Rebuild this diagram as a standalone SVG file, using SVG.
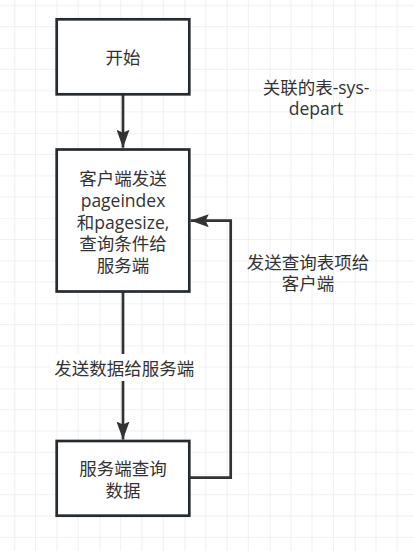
<svg xmlns="http://www.w3.org/2000/svg" width="414" height="551" viewBox="0 0 414 551">
  <defs>
    <pattern id="grid" x="14.3" y="48" width="85.1" height="85.1" patternUnits="userSpaceOnUse">
      <path d="M21.275 0V85.1M42.55 0V85.1M63.825 0V85.1M0 21.275H85.1M0 42.55H85.1M0 63.825H85.1" stroke="#f0f0f0" stroke-width="1" fill="none"/>
      <path d="M0 0V85.1M0 0H85.1" stroke="#e5e5e5" stroke-width="1.2" fill="none"/>
    </pattern>
    <marker id="arrow" viewBox="0 0 18 13" refX="18" refY="6.5" markerWidth="18" markerHeight="13" markerUnits="userSpaceOnUse" orient="auto">
      <path d="M0 0L18 6.5L0 13L3 6.5Z" fill="#333333"/>
    </marker>
  </defs>
  <style>
    .box { fill: #ffffff; stroke: #262b31; stroke-width: 2.7; }
    .t { font-family: "Open Sans", "Noto Sans CJK SC", sans-serif; font-size: 17.5px; fill: #333333; text-anchor: middle; dominant-baseline: central; }
    .edge { fill: none; stroke: #333333; stroke-width: 2.7; }
  </style>
  <rect width="414" height="551" fill="#ffffff"/>
  <rect width="414" height="551" fill="url(#grid)"/>

  <g id="connectors">
    <path class="edge" d="M123 94.3V147.7" marker-end="url(#arrow)"/>
    <path class="edge" d="M123 291.5V439.5" marker-end="url(#arrow)"/>
    <path class="edge" d="M189.3 477.7H230.7V220.7H190.7" marker-end="url(#arrow)"/>
    <rect x="50" y="354" width="148" height="27" fill="#ffffff"/>
    <text class="t" x="124.2" y="368">发送数据给服务端</text>
    <text class="t" x="308" y="261.5">发送查询表项给</text>
    <text class="t" x="308" y="283.3">客户端</text>
  </g>

  <g id="node-start">
    <rect class="box" x="56.7" y="19.3" width="132.6" height="75"/>
    <text class="t" x="123" y="57">开始</text>
  </g>

  <g id="node-client">
    <rect class="box" x="56.7" y="149.5" width="132.6" height="142"/>
    <text class="t" x="123" y="178.3">客户端发送</text>
    <text class="t" x="123" y="200">pageindex</text>
    <text class="t" x="123" y="221.7">和pagesize,</text>
    <text class="t" x="123" y="243.4">查询条件给</text>
    <text class="t" x="123" y="265.1">服务端</text>
  </g>

  <g id="node-server">
    <rect class="box" x="56.7" y="441" width="132.6" height="74.7"/>
    <text class="t" x="123" y="468.3">服务端查询</text>
    <text class="t" x="123" y="490">数据</text>
  </g>

  <g id="note">
    <text class="t" x="316" y="86.7">关联的表-sys-</text>
    <text class="t" x="316" y="108.4">depart</text>
  </g>
</svg>
